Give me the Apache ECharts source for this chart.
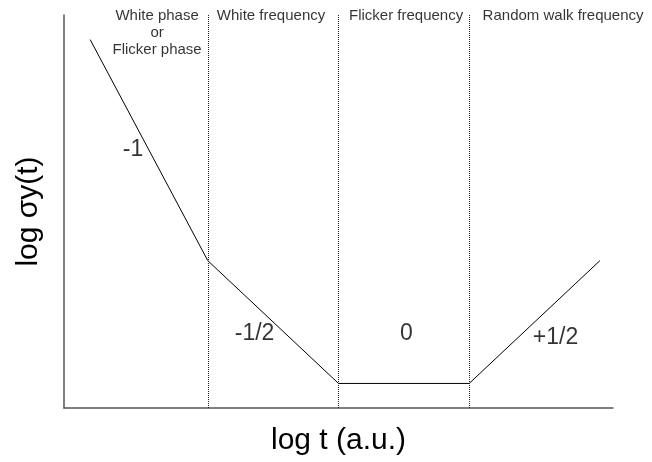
<!DOCTYPE html>
<html>
<head>
<meta charset="utf-8">
<script src="https://cdn.jsdelivr.net/npm/echarts@6/dist/echarts.min.js"></script>
<style>
  html, body { margin: 0; padding: 0; background: #fff; }
  #chart { width: 652px; height: 462px; }
</style>
</head>
<body>
<div id="chart"></div>
<script>
// Allan deviation asymptotes, in decades of log t and log sigma
const logT = [0.1, 1, 2, 3, 4];
const logSigma = [1.4, 0.5, 0, 0, 0.5];

// Boundaries between noise regimes (log t)
const regionBounds = [1, 2, 3];

// Regime names shown above the plot
const regionNames = ['White phase\nor\nFlicker phase', 'White frequency', 'Flicker frequency', 'Random walk frequency'];
const regionNameX = [0.612, 1.484, 2.517, 3.718];
const regionNameY = 1.53;

// Slope labels beside each segment
const slopeLabels = ['-1', '-1/2', '0', '+1/2'];
const slopeLabelX = [0.428, 1.358, 2.52, 3.66];
const slopeLabelY = [0.95, 0.201, 0.201, 0.187];

const Y_MIN = -0.1;
const Y_MAX = 1.5;

const FONT = 'Liberation Sans, Arial, sans-serif';

const chart = echarts.init(document.getElementById('chart'), null, { renderer: 'canvas' });

const axisLine = { show: true, onZero: false, lineStyle: { color: '#555', width: 1.5 } };

chart.setOption({
  animation: false,
  backgroundColor: '#fff',
  grid: { left: 64, right: 39, top: 15, bottom: 54, containLabel: false },
  xAxis: {
    type: 'value', min: -0.1, max: 4.1,
    axisLine: axisLine, axisTick: { show: false }, axisLabel: { show: false }, splitLine: { show: false },
    name: 'log t (a.u.)', nameLocation: 'middle', nameGap: 18,
    nameTextStyle: { fontFamily: FONT, fontSize: 30, color: '#000' }
  },
  yAxis: {
    type: 'value', min: Y_MIN, max: Y_MAX,
    axisLine: axisLine, axisTick: { show: false }, axisLabel: { show: false }, splitLine: { show: false },
    name: 'log σy(t)', nameLocation: 'middle', nameGap: 20, nameRotate: 90,
    nameTextStyle: { fontFamily: FONT, fontSize: 30, color: '#000' }
  },
  series: [
    {
      type: 'line',
      data: logT.map((x, i) => [x, logSigma[i]]),
      symbol: 'none',
      lineStyle: { color: '#000', width: 1 },
      markLine: {
        silent: true,
        symbol: ['none', 'none'],
        label: { show: false },
        lineStyle: { color: '#222', width: 1, type: [1, 1] },
        data: regionBounds.map(b => [{ coord: [b, Y_MIN] }, { coord: [b, Y_MAX] }])
      },
      z: 3
    },
    {
      type: 'scatter',
      symbolSize: 0,
      clip: false,
      silent: true,
      data: regionNames.map((t, i) => [regionNameX[i], regionNameY, t]),
      label: {
        show: true, position: 'inside', align: 'center', verticalAlign: 'top',
        formatter: p => p.value[2],
        fontFamily: FONT, fontSize: 15, lineHeight: 17, color: '#000'
      },
      z: 4
    },
    {
      type: 'scatter',
      symbolSize: 0,
      clip: false,
      silent: true,
      data: slopeLabels.map((t, i) => [slopeLabelX[i], slopeLabelY[i], t]),
      label: {
        show: true, position: 'inside', align: 'center', verticalAlign: 'middle',
        formatter: p => p.value[2],
        fontFamily: FONT, fontSize: 23, color: '#000'
      },
      z: 4
    }
  ]
});
</script>
</body>
</html>
